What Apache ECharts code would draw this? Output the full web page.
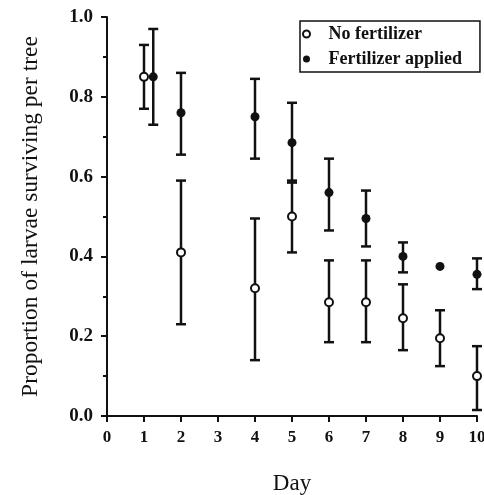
<!DOCTYPE html>
<html>
<head>
<meta charset="utf-8">
<script src="https://cdn.jsdelivr.net/npm/echarts@6/dist/echarts.min.js"></script>
<style>
  html, body { margin: 0; padding: 0; background: #fff; }
  #chart { width: 484px; height: 495px; }
</style>
</head>
<body>
<div id="chart"></div>
<script>
// values
var noFertDays = [1, 2, 4, 5, 6, 7, 8, 9, 10];
var noFertMean = [0.85, 0.41, 0.32, 0.50, 0.285, 0.285, 0.245, 0.195, 0.10];
var noFertLow  = [0.77, 0.23, 0.14, 0.41, 0.185, 0.185, 0.165, 0.125, 0.015];
var noFertHigh = [0.93, 0.59, 0.495, 0.59, 0.39, 0.39, 0.33, 0.265, 0.175];

var fertDays = [1.25, 2, 4, 5, 6, 7, 8, 9, 10];
var fertMean = [0.85, 0.76, 0.75, 0.685, 0.56, 0.495, 0.40, 0.375, 0.355];
var fertLow  = [0.73, 0.655, 0.645, 0.585, 0.465, 0.425, 0.36, null, 0.318];
var fertHigh = [0.97, 0.86, 0.845, 0.785, 0.645, 0.565, 0.435, null, 0.395];

var yTicks = [0, 0.2, 0.4, 0.6, 0.8, 1.0];

var font = 'Liberation Serif';

function zip(xs, ys) {
  return xs.map(function (x, i) { return [x, ys[i]]; });
}
function bars(xs, lo, hi) {
  var out = [];
  xs.forEach(function (x, i) {
    if (lo[i] != null && hi[i] != null) out.push([x, lo[i], hi[i]]);
  });
  return out;
}

function renderBar(params, api) {
  var lo = api.coord([api.value(0), api.value(1)]);
  var hi = api.coord([api.value(0), api.value(2)]);
  var w = 5;
  var st = { stroke: '#111', lineWidth: 2.5 };
  return {
    type: 'group',
    children: [
      { type: 'line', shape: { x1: lo[0], y1: lo[1], x2: hi[0], y2: hi[1] }, style: st },
      { type: 'line', shape: { x1: lo[0] - w, y1: lo[1], x2: lo[0] + w, y2: lo[1] }, style: st },
      { type: 'line', shape: { x1: hi[0] - w, y1: hi[1], x2: hi[0] + w, y2: hi[1] }, style: st }
    ]
  };
}

var chart = echarts.init(document.getElementById('chart'));
chart.setOption({
  animation: false,
  textStyle: { fontFamily: font, color: '#111' },
  grid: { left: 107, right: 7, top: 17, bottom: 79, outerBoundsMode: 'none', containLabel: false },
  legend: {
    left: 300, top: 21,
    orient: 'vertical',
    data: ['No fertilizer', 'Fertilizer applied'],
    itemWidth: 7, itemHeight: 7, itemGap: 7,
    padding: [4, 18, 4, 2],
    borderColor: '#111', borderWidth: 1.5,
    formatter: function (name) { return '   ' + name; },
    textStyle: { fontFamily: font, fontSize: 18, fontWeight: 'bold', color: '#111' }
  },
  xAxis: {
    type: 'value', min: 0, max: 10, interval: 1,
    name: 'Day', nameLocation: 'middle', nameGap: 56,
    nameTextStyle: { fontFamily: font, fontSize: 23, color: '#111' },
    axisLine: { lineStyle: { color: '#111', width: 2 } },
    axisTick: { inside: false, length: 6, lineStyle: { color: '#111', width: 2 } },
    axisLabel: { fontFamily: font, fontSize: 17, fontWeight: 'bold', color: '#111', margin: 13 },
    splitLine: { show: false }
  },
  yAxis: {
    type: 'value', min: yTicks[0], max: yTicks[yTicks.length - 1], interval: 0.2,
    name: 'Proportion of larvae surviving per tree', nameLocation: 'middle', nameGap: 64,
    nameTextStyle: { fontFamily: font, fontSize: 23.5, color: '#111' },
    axisLine: { show: true, lineStyle: { color: '#111', width: 2 } },
    axisTick: { show: true, inside: false, length: 6, lineStyle: { color: '#111', width: 2 } },
    minorTick: { show: true, splitNumber: 2, length: 4, lineStyle: { color: '#111', width: 2 } },
    axisLabel: {
      fontFamily: font, fontSize: 19, fontWeight: 'bold', color: '#111', margin: 14,
      formatter: function (v) { return v.toFixed(1); }
    },
    splitLine: { show: false }
  },
  series: [
    {
      type: 'custom', name: 'noFertErr', renderItem: renderBar,
      encode: { x: 0, y: [1, 2] }, data: bars(noFertDays, noFertLow, noFertHigh), z: 1
    },
    {
      type: 'custom', name: 'fertErr', renderItem: renderBar,
      encode: { x: 0, y: [1, 2] }, data: bars(fertDays, fertLow, fertHigh), z: 1
    },
    {
      type: 'scatter', name: 'No fertilizer', symbol: 'circle', symbolSize: 8,
      itemStyle: { color: '#fff', borderColor: '#111', borderWidth: 2, opacity: 1 },
      data: zip(noFertDays, noFertMean), z: 3
    },
    {
      type: 'scatter', name: 'Fertilizer applied', symbol: 'circle', symbolSize: 9,
      itemStyle: { color: '#111', opacity: 1 },
      data: zip(fertDays, fertMean), z: 3
    }
  ]
});
</script>
</body>
</html>
